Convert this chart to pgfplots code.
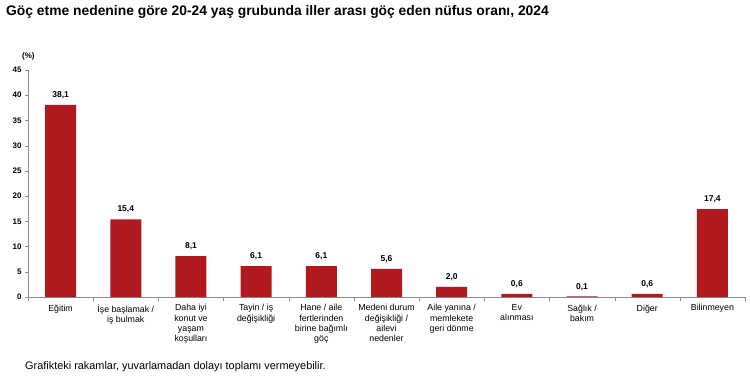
\documentclass[border=0pt]{standalone}
\usepackage{pgfplots}
\pgfplotsset{compat=1.18}
\usepackage{fontspec}
\setmainfont{Liberation Sans}
\definecolor{barred}{HTML}{B01A1E}
\definecolor{axgray}{HTML}{8C8C8C}
\begin{document}
\begin{tikzpicture}
\useasboundingbox (0pt,0pt) rectangle (750pt,384pt);
\node[anchor=west,font=\fontsize{13.85}{15}\selectfont\bfseries,inner sep=0pt] at (6pt,372pt) {Göç etme nedenine göre 20-24 yaş grubunda iller arası göç eden nüfus oranı, 2024};
\node[anchor=west,font=\fontsize{8}{9}\selectfont\bfseries,inner sep=0pt] at (22pt,328pt) {(\%)};
\node[anchor=west,font=\fontsize{10.9}{12}\selectfont,inner sep=0pt] at (25pt,17pt) {Grafikteki rakamlar, yuvarlamadan dolayı toplamı vermeyebilir.};
\begin{axis}[
  at={(28pt,87pt)}, anchor=south west,
  scale only axis, width=717pt, height=227pt,
  xmin=-0.5, xmax=10.5, ymin=0, ymax=45,
  ytick={0,5,...,45},
  xtick={0,...,10},
  xticklabels={Eğitim,{İşe başlamak /\\iş bulmak},{Daha iyi\\konut ve\\yaşam\\koşulları},{Tayin / iş\\değişikliği},{Hane / aile\\fertlerinden\\birine bağımlı\\göç},{Medeni durum\\değişikliği /\\ailevi\\nedenler},{Aile yanına /\\memlekete\\geri dönme},{Ev\\alınması},{Sağlık /\\bakım},Diğer,Bilinmeyen},
  minor xtick={-0.5,0.5,...,10.5},
  major x tick style={draw=none},
  minor tick length=4pt,
  major tick length=3pt,
  tick style={axgray},
  axis x line=bottom, axis y line=left,
  axis line style={-,axgray},
  tick align=outside,
  xticklabel style={align=center,font=\fontsize{8.8}{10.3}\selectfont,anchor=north,yshift=-1pt},
  yticklabel style={font=\fontsize{8}{9}\selectfont\bfseries},
  /pgf/number format/assume math mode=true,
  ybar, bar width=31pt,
  nodes near coords,
  nodes near coords style={font=\fontsize{8.5}{10}\selectfont\bfseries,yshift=2.5pt,/pgf/number format/.cd,fixed,fixed zerofill,precision=1,use comma},
  clip=false,
]
\addplot[fill=barred,draw=none] coordinates {(0,38.1) (1,15.4) (2,8.1) (3,6.1) (4,6.1) (5,5.6) (6,2.0) (7,0.6) (8,0.1) (9,0.6) (10,17.4)};
\end{axis}
\end{tikzpicture}
\end{document}
